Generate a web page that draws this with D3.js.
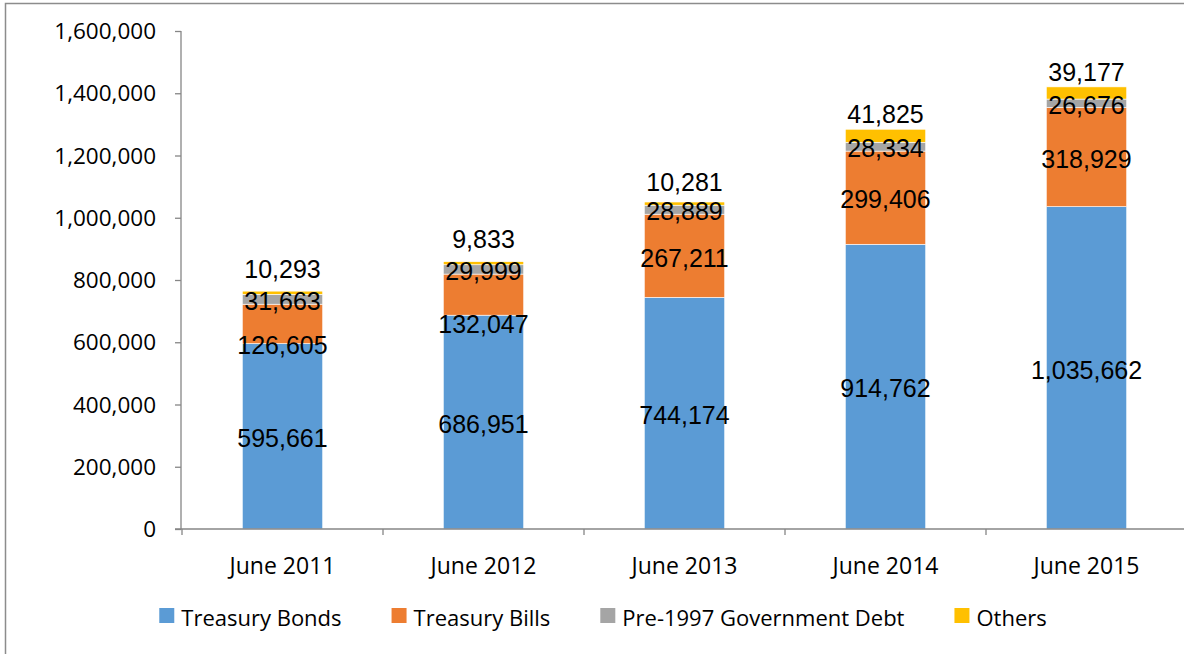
<!DOCTYPE html>
<html>
<head>
<meta charset="utf-8">
<script src="https://cdn.jsdelivr.net/npm/d3@7"></script>
<style>
  html, body { margin: 0; padding: 0; background: #fff; }
  svg { display: block; }
  .axis-text { font-family: "Open Sans", sans-serif; fill: #000; }
  .val { font-family: "Liberation Sans", Arial, sans-serif; fill: #000; }
</style>
</head>
<body>
<svg id="chart" width="1184" height="654"></svg>
<script>
// Government securities outstanding, by instrument
const categories = ["June 2011", "June 2012", "June 2013", "June 2014", "June 2015"];
const treasuryBonds = [595661, 686951, 744174, 914762, 1035662];
const treasuryBills = [126605, 132047, 267211, 299406, 318929];
const pre1997Debt   = [31663, 29999, 28889, 28334, 26676];
const others        = [10293, 9833, 10281, 41825, 39177];
const yTicks = [0, 200000, 400000, 600000, 800000, 1000000, 1200000, 1400000, 1600000];

const seriesNames  = ["Treasury Bonds", "Treasury Bills", "Pre-1997 Government Debt", "Others"];
const seriesValues = [treasuryBonds, treasuryBills, pre1997Debt, others];
const colors = ["#5B9BD5", "#ED7D31", "#A5A5A5", "#FFC000"];

// label placement tweaks (pixels): bills labels pushed down, others labels lifted above the bar
const billsLabelDrop = [19, 28, 0, 0, 0];
const othersLabelLift = [22, 22, 20, 15, 15];

const svg = d3.select("#chart");
const W = 1184, H = 654;

svg.append("rect").attr("width", W).attr("height", H).attr("fill", "#fff");
// outer chart frame
svg.append("rect")
  .attr("x", 5.5).attr("y", 3.5).attr("width", W + 20).attr("height", H + 20)
  .attr("fill", "none").attr("stroke", "#8c8c8c").attr("stroke-width", 1.5);

const x = d3.scaleBand().domain(categories).range([182, 1187]).paddingInner(0.6).paddingOuter(0.3);
const y = d3.scaleLinear().domain([0, 1600000]).range([529, 31]);

const fmt = d3.format(",");
const axisColor = "#868686";

// stack the series
const rows = categories.map((c, i) => {
  const r = { cat: c };
  seriesNames.forEach((s, k) => r[s] = seriesValues[k][i]);
  return r;
});
const stacked = d3.stack().keys(seriesNames)(rows);

// bars
const layers = svg.append("g").selectAll("g").data(stacked).join("g")
  .attr("fill", (d, i) => colors[i]);
layers.selectAll("rect").data(d => d).join("rect")
  .attr("x", d => x(d.data.cat))
  .attr("width", x.bandwidth())
  .attr("y", d => y(d[1]))
  .attr("height", d => y(d[0]) - y(d[1]))
  .attr("stroke", "#fff").attr("stroke-width", 0.6);

// y axis
const yAxis = svg.append("g").attr("transform", "translate(181,0)")
  .call(d3.axisLeft(y).tickValues(yTicks).tickFormat(fmt).tickSize(6).tickPadding(19));
yAxis.select(".domain").remove();
yAxis.selectAll(".tick line").attr("stroke", axisColor).attr("stroke-width", 1.3);
yAxis.selectAll(".tick text").attr("class", "axis-text").attr("font-size", 22.5).attr("dy", "0.34em");
svg.append("line").attr("x1", 181).attr("x2", 181).attr("y1", y(1600000)).attr("y2", y(0))
  .attr("stroke", axisColor).attr("stroke-width", 1.3);

// x axis
svg.append("line").attr("x1", 175).attr("x2", 1187).attr("y1", y(0)).attr("y2", y(0))
  .attr("stroke", axisColor).attr("stroke-width", 1.3);
const edges = categories.map(c => x(c) + x.bandwidth() / 2 - x.step() / 2)
  .concat([x(categories[categories.length - 1]) + x.bandwidth() / 2 + x.step() / 2]);
svg.append("g").selectAll("line").data(edges).join("line")
  .attr("x1", d => d).attr("x2", d => d).attr("y1", y(0)).attr("y2", y(0) + 6)
  .attr("stroke", axisColor).attr("stroke-width", 1.3);
svg.append("g").selectAll("text").data(categories).join("text")
  .attr("class", "axis-text").attr("font-size", 23)
  .attr("x", d => x(d) + x.bandwidth() / 2).attr("y", 574)
  .attr("text-anchor", "middle").text(d => d);

// value labels
const labels = svg.append("g");
stacked.forEach((layer, k) => {
  layer.forEach((d, i) => {
    let cy;
    if (k === 3) cy = y(d[1]) - othersLabelLift[i];
    else cy = (y(d[0]) + y(d[1])) / 2 + 2 + (k === 1 ? billsLabelDrop[i] : 0);
    labels.append("text").attr("class", "val").attr("font-size", 25)
      .attr("x", x(d.data.cat) + x.bandwidth() / 2).attr("y", cy).attr("dy", "0.35em")
      .attr("text-anchor", "middle")
      .text(fmt(seriesValues[k][i]));
  });
});

// legend
const legend = svg.append("g");
const entries = seriesNames.map((name, i) => {
  const g = legend.append("g");
  g.append("rect").attr("width", 15).attr("height", 15).attr("y", 608).attr("fill", colors[i]);
  const t = g.append("text").attr("class", "axis-text").attr("font-size", 22)
    .attr("x", 22).attr("y", 626).text(name);
  return { g, w: 22 + t.node().getComputedTextLength() };
});
const gap = 50;
const total = d3.sum(entries, e => e.w) + gap * (entries.length - 1);
let cx = 603 - total / 2;
entries.forEach(e => { e.g.attr("transform", `translate(${cx},0)`); cx += e.w + gap; });
</script>
</body>
</html>
